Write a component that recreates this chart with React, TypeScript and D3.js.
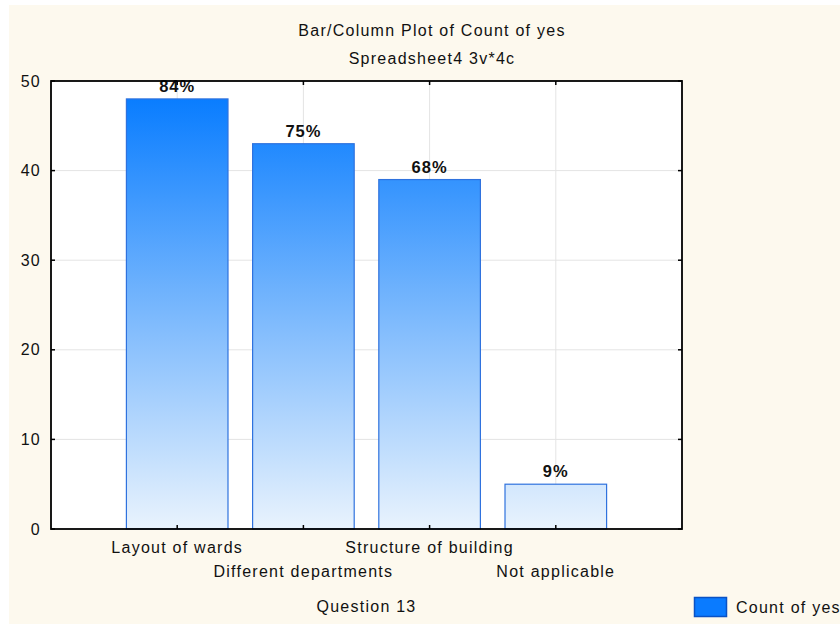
import React from "react";
import * as d3 from "d3";

const categories = ["Layout of wards", "Different departments", "Structure of building", "Not applicable"];
const counts = [48, 43, 39, 5];
const percentLabels = ["84%", "75%", "68%", "9%"];
const yTicks = [0, 10, 20, 30, 40, 50];
const title = "Bar/Column Plot of Count of yes";
const subtitle = "Spreadsheet4 3v*4c";
const xTitle = "Question 13";
const legendLabel = "Count of yes";

const W = 840;
const H = 624;
const plot = { left: 51, right: 682, top: 81, bottom: 529 };
const FONT = "'Liberation Sans', Arial, sans-serif";

export default function App() {
  const x = d3.scaleLinear().domain([0, categories.length + 1]).range([plot.left, plot.right]);
  const y = d3.scaleLinear().domain([0, 50]).range([plot.bottom, plot.top]);
  const step = x(1) - x(0);
  const barW = step * 0.805;
  const textStyle = { fontFamily: FONT, fontSize: 16, letterSpacing: 1.25, fill: "#111" } as const;

  return (
    <svg width={W} height={H} style={{ position: "absolute", left: 0, top: 0, display: "block" }}>
      <defs>
        <linearGradient id="barGrad" gradientUnits="userSpaceOnUse" x1={0} y1={plot.top} x2={0} y2={plot.bottom}>
          <stop offset="0" stopColor="#0078FF" />
          <stop offset="0.5" stopColor="#76B6FD" />
          <stop offset="1" stopColor="#E9F3FD" />
        </linearGradient>
      </defs>
      <rect x={0} y={0} width={W} height={H} fill="#ffffff" />
      <rect x={9} y={5} width={W - 9} height={H - 5} fill="#FDF9EE" />
      <rect x={plot.left} y={plot.top} width={plot.right - plot.left} height={plot.bottom - plot.top} fill="#ffffff" />
      {yTicks.filter((t) => t > 0 && t < 50).map((t) => (
        <line key={"h" + t} x1={plot.left} x2={plot.right} y1={y(t)} y2={y(t)} stroke="#E4E4E4" strokeWidth={1} />
      ))}
      {categories.map((c, i) => (
        <line key={"v" + c} x1={x(i + 1)} x2={x(i + 1)} y1={plot.top} y2={plot.bottom} stroke="#E4E4E4" strokeWidth={1} />
      ))}
      {counts.map((v, i) => (
        <rect
          key={"b" + i}
          x={x(i + 1) - barW / 2}
          y={y(v)}
          width={barW}
          height={y(0) - y(v)}
          fill="url(#barGrad)"
          stroke="#2F72DE"
          strokeWidth={1.2}
        />
      ))}
      {counts.map((v, i) => (
        <text
          key={"p" + i}
          x={x(i + 1)}
          y={y(v) - 7}
          textAnchor="middle"
          style={{ ...textStyle, fontSize: 16.5, fontWeight: "bold", letterSpacing: 1 }}
        >
          {percentLabels[i]}
        </text>
      ))}
      <rect x={plot.left} y={plot.top} width={plot.right - plot.left} height={plot.bottom - plot.top} fill="none" stroke="#000" strokeWidth={1.8} />
      {yTicks.map((t) => (
        <g key={"yt" + t}>
          <line x1={plot.left} x2={plot.left + 4} y1={y(t)} y2={y(t)} stroke="#000" strokeWidth={1.5} />
          <line x1={plot.right - 4} x2={plot.right} y1={y(t)} y2={y(t)} stroke="#000" strokeWidth={1.5} />
          <text x={41} y={y(t) + 5.5} textAnchor="end" style={textStyle}>
            {t}
          </text>
        </g>
      ))}
      {categories.map((c, i) => (
        <g key={"xt" + c}>
          <line x1={x(i + 1)} x2={x(i + 1)} y1={plot.bottom} y2={plot.bottom - 4} stroke="#000" strokeWidth={1.5} />
          <line x1={x(i + 1)} x2={x(i + 1)} y1={plot.top} y2={plot.top + 4} stroke="#000" strokeWidth={1.5} />
          <text x={x(i + 1)} y={i % 2 === 0 ? 553 : 577} textAnchor="middle" style={textStyle}>
            {c}
          </text>
        </g>
      ))}
      <text x={432} y={36} textAnchor="middle" style={textStyle}>
        {title}
      </text>
      <text x={432} y={64} textAnchor="middle" style={textStyle}>
        {subtitle}
      </text>
      <text x={(plot.left + plot.right) / 2} y={612} textAnchor="middle" style={textStyle}>
        {xTitle}
      </text>
      <rect x={694.5} y={597.5} width={32} height={19} fill="#0A7BFF" stroke="#0A52C4" strokeWidth={1.5} />
      <text x={736} y={613} style={textStyle}>
        {legendLabel}
      </text>
    </svg>
  );
}
